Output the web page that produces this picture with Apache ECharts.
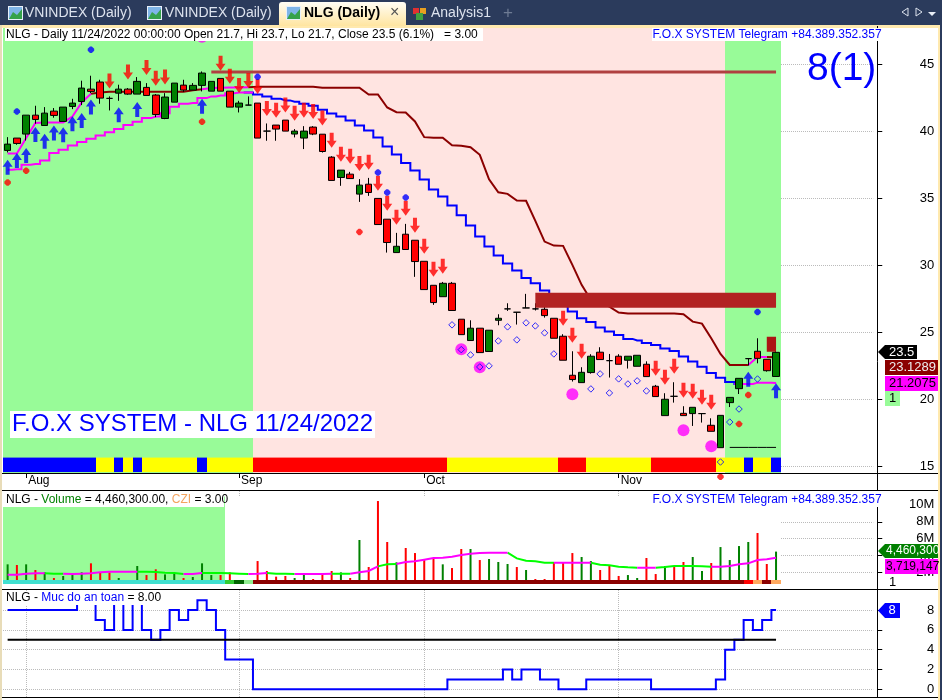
<!DOCTYPE html>
<html><head><meta charset="utf-8">
<script src="https://cdn.jsdelivr.net/npm/echarts@6/dist/echarts.min.js"></script>
<style>html,body{margin:0;padding:0;background:#fff}#c{width:942px;height:700px}</style>
</head><body><div id="c"></div>
<script>
const categories=['2022-07-28','2022-07-29','2022-08-01','2022-08-02','2022-08-03','2022-08-04','2022-08-05','2022-08-08','2022-08-09','2022-08-10','2022-08-11','2022-08-12','2022-08-15','2022-08-16','2022-08-17','2022-08-18','2022-08-19','2022-08-22','2022-08-23','2022-08-24','2022-08-25','2022-08-26','2022-08-29','2022-08-30','2022-08-31','2022-09-05','2022-09-06','2022-09-07','2022-09-08','2022-09-09','2022-09-12','2022-09-13','2022-09-14','2022-09-15','2022-09-16','2022-09-19','2022-09-20','2022-09-21','2022-09-22','2022-09-23','2022-09-26','2022-09-27','2022-09-28','2022-09-29','2022-09-30','2022-10-03','2022-10-04','2022-10-05','2022-10-06','2022-10-07','2022-10-10','2022-10-11','2022-10-12','2022-10-13','2022-10-14','2022-10-17','2022-10-18','2022-10-19','2022-10-20','2022-10-21','2022-10-24','2022-10-25','2022-10-26','2022-10-27','2022-10-28','2022-10-31','2022-11-01','2022-11-02','2022-11-03','2022-11-04','2022-11-07','2022-11-08','2022-11-09','2022-11-10','2022-11-11','2022-11-14','2022-11-15','2022-11-16','2022-11-17','2022-11-18','2022-11-21','2022-11-22','2022-11-23','2022-11-24'];
const monthStarts=[2,25,45,66];
const monthLabels=['Aug','Sep','Oct','Nov'];
const blankSlots=10;

const opens=[38.56,39.48,39.78,41.19,40.42,41.49,40.72,41.84,42.21,43.13,43.66,42.44,42.83,43.13,42.76,43.26,42.69,40.94,42.16,43.43,43.06,43.41,42.98,43.93,42.98,41.79,41.94,42.09,40.00,40.45,40.82,39.78,39.48,40.30,39.77,38.06,36.54,36.79,35.30,36.04,34.98,33.43,30.94,32.31,31.86,30.29,28.50,27.65,28.65,25.97,24.38,25.30,23.56,25.89,26.74,26.49,26.81,26.74,26.71,26.04,24.70,21.79,21.24,21.99,23.51,22.88,23.21,22.91,22.46,22.61,20.97,18.78,20.22,18.95,18.93,18.93,18.06,16.39,19.75,20.79,23.03,23.58,22.98,21.7];
const closes=[39.03,39.08,41.19,40.87,41.34,41.17,41.79,42.09,43.21,42.96,42.46,42.44,43.13,42.76,43.71,42.66,41.24,42.54,43.58,43.06,43.41,44.33,43.71,42.98,41.79,42.09,41.94,39.48,40.00,40.15,40.00,40.00,40.00,39.78,38.48,36.32,37.09,36.46,35.97,35.42,33.03,31.69,31.41,31.17,30.27,28.18,27.21,28.65,26.62,24.82,25.30,23.48,25.15,26.04,26.74,26.49,26.81,26.74,26.24,24.55,22.91,21.47,22.01,23.21,22.96,22.88,22.61,23.21,23.28,21.69,20.20,20.00,20.22,18.78,19.40,18.93,17.61,18.80,20.14,21.56,23.03,23.05,22.13,23.5];
const lows=[38.41,38.98,39.30,40.55,40.42,41.00,40.72,41.64,41.94,42.83,42.04,41.54,42.26,42.71,42.76,42.66,41.04,40.89,42.16,42.93,43.06,42.96,42.98,42.98,41.79,41.39,41.94,39.48,39.28,39.28,40.00,39.53,38.66,39.70,38.40,36.32,35.92,36.46,34.72,35.17,33.03,30.94,30.94,31.17,29.13,28.18,27.04,27.65,26.62,24.82,24.38,23.48,23.56,25.52,26.59,25.57,26.81,26.62,26.09,24.55,22.91,21.32,21.24,21.91,22.96,21.62,22.61,22.29,22.46,21.69,20.20,18.78,19.75,18.78,18.01,18.26,17.61,16.39,19.42,20.39,22.51,22.68,22.06,21.7];
const highs=[39.55,39.48,41.19,41.89,41.79,41.72,41.79,42.41,43.76,44.13,43.83,42.59,43.46,43.21,44.03,43.58,42.76,42.83,43.58,43.83,43.58,44.45,43.71,43.93,42.98,42.26,42.59,42.09,40.57,40.45,40.82,40.15,40.37,40.37,39.77,38.13,37.09,36.96,36.42,36.51,34.98,33.43,32.41,33.08,31.86,30.29,28.50,28.75,28.75,25.97,25.89,25.30,25.15,26.34,27.16,26.49,27.86,27.16,26.91,26.04,24.85,23.58,22.39,23.36,23.88,23.38,23.36,23.21,23.28,22.83,21.07,20.45,21.27,19.48,19.40,18.93,18.58,18.80,20.14,21.56,23.03,24.55,22.98,23.7];

const slowLine=[38.33,38.33,39.48,40.60,40.65,40.65,40.65,41.09,42.14,42.79,42.88,42.93,42.93,42.93,42.93,42.93,42.93,42.93,42.93,42.93,43.05,43.13,43.21,43.23,43.26,43.26,43.28,43.31,43.31,43.31,43.31,43.31,43.31,43.31,43.23,43.23,43.23,43.23,43.23,42.73,42.73,41.76,41.41,41.39,40.72,39.55,39.50,39.50,38.95,38.90,38.80,38.23,36.41,35.44,35.32,34.82,34.80,33.30,31.76,31.46,31.44,30.02,28.53,27.41,27.16,26.91,26.47,26.39,26.39,26.39,26.39,26.39,26.39,26.34,25.79,25.64,24.55,23.38,22.56,22.56,22.56,23.15,23.15,23.1289];
const slowMagentaRuns=[[0,9],[21,26],[80,82]];
const fastLine=[37.11,37.16,37.49,37.54,37.81,38.36,38.61,38.93,39.18,39.43,39.68,39.92,40.15,40.45,40.70,40.97,41.09,41.34,41.81,42.04,42.09,42.46,42.59,42.66,42.83,42.88,42.88,42.73,42.58,42.41,42.29,42.19,42.04,41.89,41.59,41.32,41.09,40.79,40.42,40.05,39.52,38.85,38.26,37.63,37.06,36.39,35.64,35.12,34.45,33.73,32.96,32.14,31.39,30.72,30.12,29.60,29.05,28.65,28.11,27.59,27.04,26.54,26.04,25.77,25.35,25.05,24.80,24.50,24.38,24.20,24.05,23.78,23.60,23.18,22.81,22.43,21.96,21.61,21.29,21.14,21.14,21.24,21.24,21.2075];
const fastMagentaRuns=[[0,26],[79,83]];

const upArrows=[[0,37.31],[1,37.81],[2,38.18],[3,39.75],[4,39.25],[5,39.85],[6,39.73],[7,40.55],[8,40.80],[9,41.79],[12,41.22],[14,41.62],[21,41.86],[80,21.49],[83,20.64]];
const downArrows=[[11,43.73],[13,44.40],[15,44.75],[16,43.95],[17,44.03],[23,45.07],[24,44.10],[25,43.41],[26,43.78],[27,43.33],[28,41.69],[29,41.56],[30,41.94],[31,41.34],[32,41.56],[33,41.46],[34,40.97],[35,39.32],[36,38.28],[37,38.13],[38,37.58],[39,37.68],[40,36.12],[41,34.62],[42,33.58],[43,34.25],[44,32.98],[45,31.41],[46,29.70],[47,29.92],[60,26.04],[61,24.77],[62,23.58],[70,22.31],[71,21.64],[72,22.46],[73,20.67],[74,20.60],[75,20.15],[76,19.77]];
const blueDots=[[1,41.47],[9,46.07],[27,44.05],[40,36.91],[41,35.42],[43,35.05],[81,26.51]];
const redDots=[[0,36.17],[2,37.04],[21,40.70],[38,32.48],[77,14.22],[79,18.15],[80,20.32]];
const hollowDots=[[48,25.55],[49,23.70],[50,23.31],[51,22.41],[52,22.49],[53,24.35],[54,25.40],[55,24.43],[56,25.70],[57,25.47],[58,24.95],[59,23.38],[63,20.77],[64,21.89],[65,20.47],[66,21.52],[67,21.14],[68,21.37],[69,20.62],[77,15.32],[78,18.30],[79,19.27],[81,21.51]];
const magentaDots=[[21,47.04],[49,23.73],[51,22.39],[61,20.37],[73,17.68],[76,16.49]];

const upperLevel=44.4, upperLevelFrom=22;
const boxLevel=27.39, boxLevelFrom=57;
const shortLevel=24.1, shortLevelFrom=82;
const floorLevel=16.41, floorLevelFrom=78;

const mainZoneRuns=[[0,27],[1,51],[0,6]];
const mainStripRuns=[[0,10],[1,2],[0,1],[1,1],[0,1],[1,6],[0,1],[1,5],[2,21],[1,12],[2,3],[1,7],[2,7],[1,3],[0,1],[1,2],[0,1]];
const volZoneRuns=[[0,24],[1,60]];
const volStripRuns=[[0,24],[1,1],[2,1],[3,1],[4,53],[5,1],[6,1],[4,1],[6,1]];

const volumes=[2.95,2.87,2.95,2.28,2.0,1.33,1.57,1.68,2.0,3.07,2.0,2.0,1.33,1.09,2.75,1.68,2.36,1.76,1.96,1.33,1.45,3.07,1.68,1.68,2.0,0.85,0.9,3.34,2.16,1.49,1.57,1.33,1.88,1.21,1.76,2.16,2.0,1.33,5.84,2.63,10.46,5.60,3.19,4.89,4.29,3.58,3.58,2.95,2.51,4.77,4.77,3.46,3.58,3.23,2.99,2.63,2.28,1.21,1.21,3.23,3.23,4.29,3.82,3.34,2.28,2.87,1.57,1.68,1.33,3.70,1.80,2.75,2.63,3.23,3.82,2.16,3.11,5.0,3.46,5.12,5.60,6.67,2.99,4.4603];
const volumeUp=[1,0,1,0,1,0,1,1,1,0,0,0,1,0,1,0,0,1,1,0,1,1,1,0,0,1,1,0,0,0,0,1,1,0,0,0,1,0,1,0,0,0,1,0,0,0,0,1,0,0,1,0,1,1,1,0,1,0,0,0,0,0,1,1,0,0,0,1,1,0,0,1,0,0,1,1,0,1,1,1,1,0,0,1];
const volumeAvg=[1.72,1.72,1.84,1.88,1.88,1.84,1.84,1.80,1.84,1.88,2.0,2.08,2.08,2.08,2.08,2.08,2.04,1.96,1.92,1.80,1.80,1.92,1.92,1.92,1.88,1.84,1.80,1.84,1.92,1.84,1.84,1.80,1.80,1.80,1.80,1.84,1.84,1.84,2.0,2.16,2.71,2.95,2.99,3.23,3.31,3.50,3.70,3.74,3.86,4.06,4.21,4.29,4.33,4.33,4.33,3.66,3.38,3.31,3.15,3.15,3.15,3.15,3.15,3.15,2.91,2.83,2.67,2.59,2.55,2.55,2.55,2.63,2.75,2.75,2.75,2.71,2.67,2.67,2.75,2.95,3.07,3.46,3.54,3.7191];
const volMagentaRuns=[[0,4],[6,9],[10,11],[12,14],[19,21],[26,28],[31,35],[37,40],[42,54],[59,63],[68,70],[76,83]];

const safety=[8,8,8,8,8,8,8,8,9,9,7,6,9,6,9,6,5,6,8,7,8,9,8,6,3,3,3,0,0,0,0,0,0,0,0,0,0,0,0,0,0,0,0,0,0,0,0,0,1,1,1,1,1,1,2,1,2,2,1,1,0,0,0,1,1,1,1,1,1,1,0,0,0,0,0,0,0,1,4,5,7,6,7,8];
const safetyLevel=5;

const priceTicks=[15,20,25,30,35,40,45];
const volumeTicks=[2,4,6,8,10];
const safetyTicks=[0,2,4,6,8];

const GREEN='#98FB98',PINK='#FFE4E1',FONT='"Liberation Sans",Arial,sans-serif';
const total=categories.length, slots=categories.concat(new Array(blankSlots).fill(''));

function expand(runs){const o=[];runs.forEach(r=>{for(let k=0;k<r[1];k++)o.push(r[0]);});return o;}
function pick(vals,runs,keepInside){
  const inside=i=>runs.some(r=>i>=r[0]&&i<=r[1]);
  return vals.map((v,i)=>{
    if(keepInside)return inside(i)?v:null;
    const seg=(i<vals.length-1&&!(inside(i)&&inside(i+1)))||(i>0&&!(inside(i-1)&&inside(i)));
    return seg?v:null;
  });
}
function flat(value,from,to){const a=new Array(total).fill(null);for(let i=from;i<=to;i++)a[i]=value;return a;}

function band(name,xi,yi,runs,palette,lo,hi,z){
  const codes=expand(runs);
  return {type:'custom',name,xAxisIndex:xi,yAxisIndex:yi,z,silent:true,animation:false,clip:false,
    encode:{x:0,y:[1,2]},
    data:codes.map((c,i)=>[i,lo,hi,c]),
    renderItem(params,api){
      const w=api.size([1,0])[0];
      const a=api.coord([api.value(0),api.value(2)]);
      const b=api.coord([api.value(0),api.value(1)]);
      const x0=Math.round(a[0]-w/2),x1=Math.round(a[0]+w/2);
      return {type:'rect',shape:{x:x0,y:a[1],width:x1-x0,height:b[1]-a[1]},style:{fill:palette[api.value(3)]}};
    }};
}
function line(name,data,color,width,z,xi,yi,extra){
  return Object.assign({type:'line',name,data,xAxisIndex:xi||0,yAxisIndex:yi||0,z,symbol:'none',silent:true,animation:false,connectNulls:false,
    lineStyle:{color,width,cap:'butt',join:'miter'}},extra||{});
}
function marks(name,data,symbol,size,color,z,extra){
  return Object.assign({type:'scatter',name,data,symbol,symbolSize:size,xAxisIndex:0,yAxisIndex:0,z,silent:true,animation:false,clip:false,
    itemStyle:{color}},extra||{});
}

const ARROW_UP='path://M5 0L10 7L7 7L7 15L3 15L3 7L0 7Z';
const ARROW_DOWN='path://M3 0L7 0L7 8L10 8L5 15L0 8L3 8Z';
const BLOB='path://M2.5 0L4.5 0L7 2.5L7 4.5L4.5 7L2.5 7L0 4.5L0 2.5Z';

function grid(top,height){return {left:3,width:870.25,top,height,containLabel:false};}
function valueAxis(gridIndex,min,max,ticks,fmt){
  return {type:'value',gridIndex,position:'right',offset:4,min,max,scale:false,
    axisLine:{show:false},
    axisTick:{show:true,length:5,customValues:ticks,lineStyle:{color:'#000'}},
    axisLabel:{show:true,customValues:ticks,formatter:fmt,align:'right',margin:57,color:'#000',fontSize:13,fontFamily:FONT},
    splitLine:{show:true,customValues:ticks,lineStyle:{type:'dotted',color:'#bbb',width:1}}};
}
function isMonth(i){return monthStarts.indexOf(i)>=0;}
function catAxis(gridIndex,main){
  return {type:'category',gridIndex,data:slots,boundaryGap:true,
    axisLine:{show:false},
    axisTick:{show:main,alignWithLabel:true,length:5,interval:isMonth,lineStyle:{color:'#000'}},
    axisLabel:{show:main,interval:isMonth,align:'left',margin:2,color:'#000',fontSize:12,fontFamily:FONT,hideOverlap:false,padding:[0,0,0,2],
      formatter:(v,i)=>monthLabels[monthStarts.indexOf(i)]||''},
    splitLine:{show:true,interval:isMonth,alignWithLabel:true,lineStyle:{type:'dotted',color:'#bbb',width:1}}};
}

const series=[
  band('mainZone',0,0,mainZoneRuns,[GREEN,PINK],14.5,47.69,1),
  band('mainStrip',0,0,mainStripRuns,['#0000FF','#FFFF00','#FF0000'],14.57,15.65,2),
  line('slowDark',pick(slowLine,slowMagentaRuns,false),'#8B0000',2,3),
  line('slowMagenta',pick(slowLine,slowMagentaRuns,true),'#FF00FF',2,3),
  line('fastBlue',pick(fastLine,fastMagentaRuns,false),'#0000FF',2,3,0,0,{step:'middle'}),
  line('fastMagenta',pick(fastLine,fastMagentaRuns,true),'#FF00FF',2,3,0,0,{step:'middle'}),
  {type:'candlestick',name:'NLG',xAxisIndex:0,yAxisIndex:0,z:4,barWidth:7,animation:false,silent:true,clip:false,
    data:categories.map((_,i)=>[opens[i],closes[i],lows[i],highs[i]]),
    itemStyle:{color:'#008000',color0:'#FF0000',borderColor:'#000',borderColor0:'#000',borderColorDoji:'#000',borderWidth:1}},
  line('upperLevel',flat(upperLevel,upperLevelFrom,total-1),'#B04040',3,5),
  line('boxLevel',flat(boxLevel,boxLevelFrom,total-1),'#B22222',15,5),
  line('shortLevel',flat(shortLevel,shortLevelFrom,total-1),'#AC1515',15,5),
  line('floorLevel',flat(floorLevel,floorLevelFrom,total-1),'#000',1,5),
  marks('magentaDots',magentaDots,'circle',12,'#FF00FF',6),
  marks('hollowDots',hollowDots,'diamond',6.5,'rgba(0,0,0,0)',7,{itemStyle:{color:'rgba(0,0,0,0)',borderColor:'#0000FF',borderWidth:1}}),
  marks('upArrows',upArrows,ARROW_UP,[10,15],'#0000FF',7),
  marks('downArrows',downArrows,ARROW_DOWN,[10,15],'#FF0000',7),
  marks('blueDots',blueDots,BLOB,6.5,'#0000FF',8),
  marks('redDots',redDots,BLOB,6.5,'#FF0000',8),

  band('volZone',1,1,volZoneRuns,[GREEN,'#FFFFFF'],0,11,1),
  {type:'bar',name:'Volume',xAxisIndex:1,yAxisIndex:1,z:3,barWidth:2,animation:false,silent:true,
    data:volumes.map((v,i)=>({value:v,itemStyle:{color:volumeUp[i]?'#008000':'#FF0000'}}))},
  band('volBase',1,1,[[0,84]],['#FFFFFF'],0,0.617,4),
  band('volStrip',1,1,volStripRuns,['#40E0D0','#32CD32','#006400','#90EE90','#8B0000','#FF0000','#FFA95F'],0.617,1.09,4),
  line('volAvgLime',pick(volumeAvg,volMagentaRuns,false),'#00FF00',2,5,1,1),
  line('volAvgMagenta',pick(volumeAvg,volMagentaRuns,true),'#FF00FF',2,5,1,1),

  line('safety',safety,'#0000FF',2,3,2,2,{step:'middle'}),
  line('safetyLevel',flat(safetyLevel,0,total-1),'#000',2,3,2,2)
];

function rect(x,y,w,h,fill,z,extra){return Object.assign({type:'rect',silent:true,z:z||100,shape:{x,y,width:w,height:h},style:{fill}},extra||{});}
function text(x,y,t,color,size,opts){opts=opts||{};return {type:'text',silent:true,z:opts.z||120,x,y,style:Object.assign({text:t,fill:color,font:(opts.bold?'bold ':'')+size+'px '+FONT,textAlign:opts.align||'left',textVerticalAlign:'middle'},opts.style||{})};}
function hline(x0,x1,y,color,w,z){return {type:'line',silent:true,z:z||110,shape:{x1:x0,y1:y,x2:x1,y2:y},style:{stroke:color,lineWidth:w||1}};}
function poly(points,fill,z,stroke){return {type:'polygon',silent:true,z:z||110,shape:{points},style:stroke?{fill:'none',stroke}:{fill}};}
function icon(x){return [rect(x,6,15,14,'#E8F0FA',105),rect(x+1,7,13,12,'#7FB5E8',106),poly([[x+1,19],[x+5,12],[x+9,15],[x+14,9],[x+14,19]],'#35A24A',107)];}

const graphicEls=[
  rect(0,0,942,25,'#2B3B5C',100),
  rect(0,25,942,3,'#FFE9AE',100),
  rect(0,25,2,675,'#E8DCB8',100),
  rect(938,25,2,675,'#FFE9AE',100),
  rect(940,0,2,700,'#2B3B5C',100),
  ...icon(8),text(25,13,'VNINDEX (Daily)','#DDE3EE',14),
  ...icon(147),text(165,13,'VNINDEX (Daily)','#DDE3EE',14),
  {type:'rect',silent:true,z:101,shape:{x:279,y:2,width:127,height:24,r:[3,3,0,0]},style:{fill:new echarts.graphic.LinearGradient(0,0,0,1,[{offset:0,color:'#FFFDF5'},{offset:1,color:'#FFE5A0'}])}},
  ...icon(286),text(304,13,'NLG (Daily)','#000',14,{bold:true}),
  text(390,13,'\u00D7','#555',16),
  rect(413,8,6,6,'#E03030',105),rect(420,8,6,6,'#E8A020',105),rect(416,13,7,7,'#40A040',105),
  text(431,13,'Analysis1','#DDE3EE',14),
  text(508,13,'+','#6E7B94',17,{align:'center'}),
  poly([[908,8],[908,16],[902,12]],null,110,'#DDE3EE'),
  poly([[916,8],[916,16],[922,12]],null,110,'#DDE3EE'),
  poly([[928,12],[936,12],[932,16]],'#E8EDF5',110),

  {type:'line',silent:true,z:102,shape:{x1:877.5,y1:26,x2:877.5,y2:697},style:{stroke:'#000',lineWidth:1}},
  hline(2,938,473.5,'#000',1),
  hline(2,938,490.5,'#000',1),
  hline(2,938,589.5,'#000',1),
  hline(2,938,697.5,'#000',1),

  rect(5,28,478,13,'#FFFFFF',110),
  text(6,34.5,'NLG - Daily 11/24/2022 00:00:00 Open 21.7, Hi 23.7, Lo 21.7, Close 23.5 (6.1%)   = 3.00','#000',12),
  rect(652,28,231,13,'#FFFFFF',110),
  text(652.5,34.5,'F.O.X SYSTEM Telegram +84.389.352.357','#0000FF',12),
  text(807,69,'8(1)','#0000FF',39),
  rect(10,411,365,27,'#FFFFFF',110),
  text(12,424.5,'F.O.X SYSTEM - NLG 11/24/2022','#0000FF',24),

  rect(3,491,221,16,'#FFFFFF',110),
  {type:'text',silent:true,z:120,x:6,y:500,style:{text:'{k|NLG - }{g|Volume}{k| = 4,460,300.00, }{o|CZI}{k| = 3.00}',textVerticalAlign:'middle',font:'12px '+FONT,
    rich:{k:{fill:'#000',font:'12px '+FONT},g:{fill:'#008000',font:'12px '+FONT},o:{fill:'#F4A460',font:'12px '+FONT}}}},
  rect(652,491,231,16,'#FFFFFF',110),
  text(652.5,500,'F.O.X SYSTEM Telegram +84.389.352.357','#0000FF',12),

  rect(3,591,157,14,'#FFFFFF',110),
  {type:'text',silent:true,z:120,x:6,y:598,style:{text:'{k|NLG - }{b|Muc do an toan}{k| = 8.00}',textVerticalAlign:'middle',font:'12px '+FONT,
    rich:{k:{fill:'#000',font:'12px '+FONT},b:{fill:'#0000FF',font:'12px '+FONT}}}},

  poly([[878,352],[885,345],[917,345],[917,359],[885,359]],'#000',115),
  text(889,352,'23.5','#FFF',13),
  rect(885,360,53,15,'#8B0000',115),text(889,367.5,'23.1289','#EEE',13),
  rect(885,376,53,15,'#FF00FF',115),text(889,383.5,'21.2075','#000',13),
  rect(885,391,15,15,GREEN,115),text(892.5,398.5,'1','#000',13,{align:'center'}),

  poly([[878,551],[885,544],[938,544],[938,558],[885,558]],'#008000',115),
  text(886,551,'4,460,300','#FFF',12),
  rect(885,559,53,15,'#FF00FF',115),text(886,566.5,'3,719,147','#000',12),
  text(892.5,582,'1','#000',13,{align:'center'}),

  poly([[878,610.5],[885,603],[900,603],[900,618],[885,618]],'#0000FF',115),
  text(892,610.5,'8','#FFF',13,{align:'center'})
];

const chart=echarts.init(document.getElementById('c'),null,{renderer:'canvas'});
chart.setOption({
  animation:false,backgroundColor:'#fff',
  grid:[grid(28,445),grid(491,98.2),grid(590,107)],
  xAxis:[catAxis(0,true),catAxis(1,false),catAxis(2,false)],
  yAxis:[
    valueAxis(0,14.5,47.69,priceTicks,v=>String(v)),
    valueAxis(1,0,11.65,volumeTicks,v=>v+'M'),
    valueAxis(2,-0.78,10.03,safetyTicks,v=>String(v))
  ],
  series,
  graphic:{elements:graphicEls}
});
</script></body></html>
